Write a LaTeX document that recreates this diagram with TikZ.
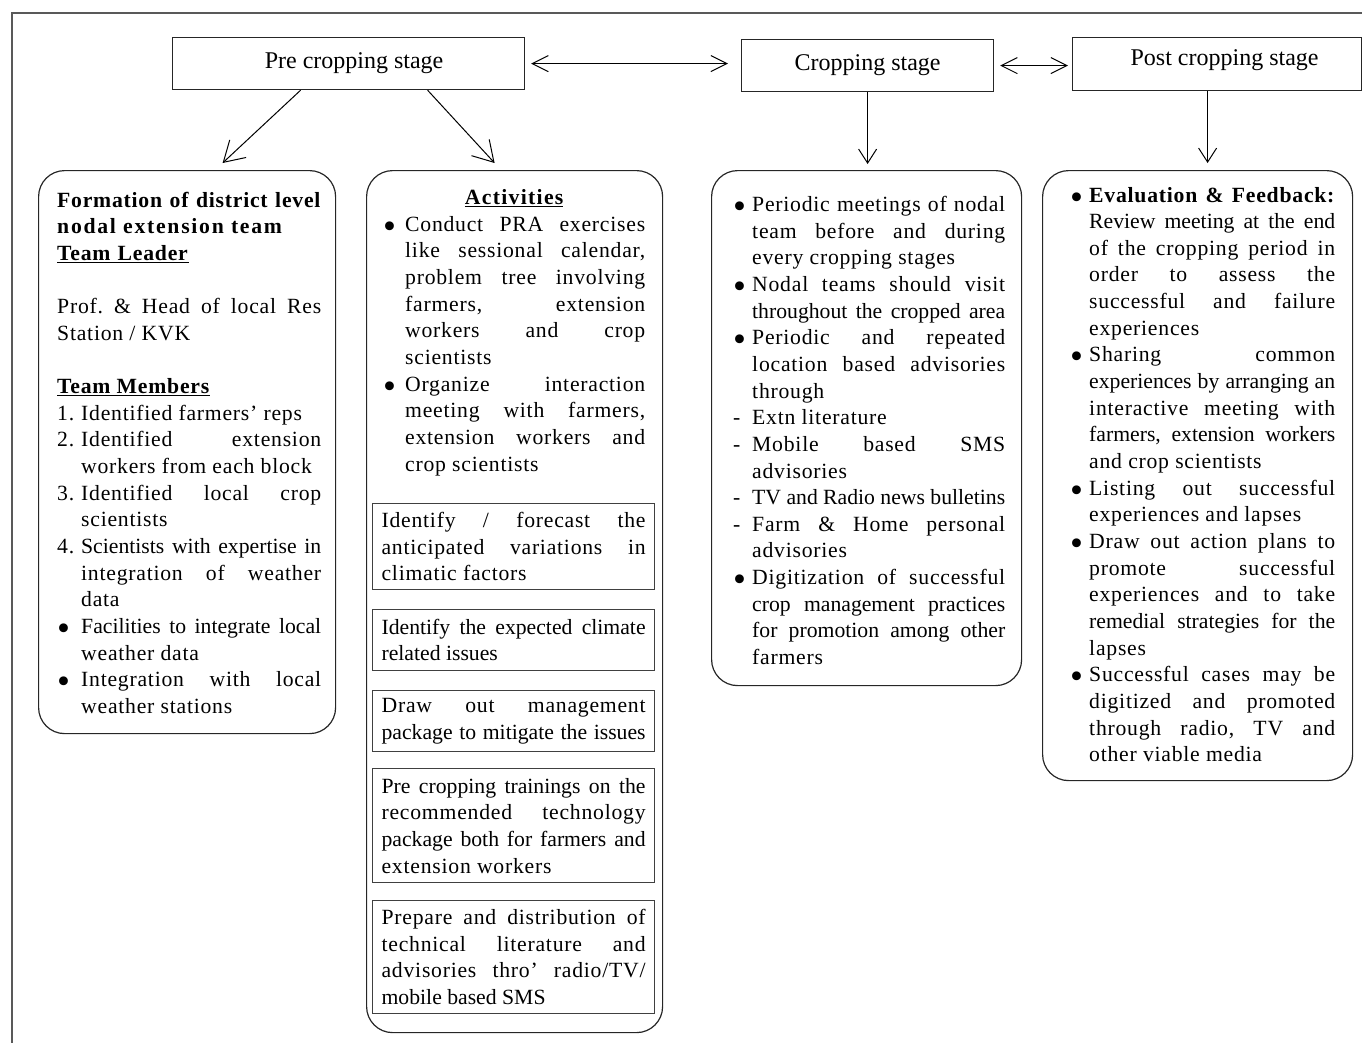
\documentclass[tikz,border=0pt]{standalone}
\usepackage{fontspec}
\setmainfont{Liberation Serif}[LetterSpace=3.5]
\newfontfamily\lsfont{Liberation Serif}[LetterSpace=3.5]
\newfontfamily\tightfont{Liberation Serif}
\usetikzlibrary{arrows.meta}
\newlength\xind
\newlength\xw
\newcommand\xtf{\tightfont}
\newcommand\xsk{\spaceskip=0pt\xspaceskip=0pt }
\newcommand\xb{\raisebox{-7pt}{\scalebox{1.7}{•}}}
\newcommand\xjl[1]{\makebox[\xw][s]{\xsk#1}}
\newcommand\xij[2]{\makebox[\xind][l]{#1}\makebox[\dimexpr\xw-\xind\relax][s]{\xsk#2}}
\newcommand\xil[2]{\makebox[\xind][l]{#1}{\xsk#2}}
\newcommand\xcl[1]{\hspace*{\xind}{\xsk#1}}
\newcommand\xcj[1]{\hspace*{\xind}\makebox[\dimexpr\xw-\xind\relax][s]{\xsk#1}}
\begin{document}
\begin{tikzpicture}[x=1pt,y=-1pt,
  every node/.style={font=\fontsize{21.7}{26.65}\selectfont\frenchspacing, inner sep=0pt},
  topbox/.style={draw=black!85, line width=1.2pt, font=\tightfont\fontsize{24}{28}\selectfont, anchor=north west},
  rbox/.style={draw=black!85, line width=1.2pt, rounded corners=26pt, anchor=north west},
  ibox/.style={draw=black!75, line width=1.2pt, anchor=north west, text width=264pt, inner xsep=9pt, align=left},
  txt/.style={anchor=base west, align=left},
  arr/.style={line width=1pt, -{Straight Barb[length=14pt,width=18pt]}},
  darr/.style={line width=1pt, -{Straight Barb[length=20pt,width=24pt]}},
  harr/.style={line width=1pt, {Straight Barb[length=16pt,width=16pt]}-{Straight Barb[length=16pt,width=16pt]}}]
\useasboundingbox (0,0) rectangle (1362,1042);
\draw[black!65, line width=1.6pt] (12,1060) -- (12,13) -- (1380,13);

% top stage boxes
\node[topbox, minimum width=352pt, minimum height=52pt] (pre) at (172,37) {\hspace*{11pt}Pre cropping stage};
\node[topbox, minimum width=252pt, minimum height=52pt] (crop) at (741,39) {Cropping stage};
\node[topbox, minimum width=289pt, minimum height=53pt] (post) at (1072,37) {\hspace*{15pt}\raisebox{4pt}[\height][\depth]{Post cropping stage}};

% rounded boxes
\node[rbox, minimum width=297pt, minimum height=563pt] (team) at (38,170) {};
\node[rbox, minimum width=296pt, minimum height=862pt] (act) at (366,170) {};
\node[rbox, minimum width=310pt, minimum height=515pt] (cbox) at (711,170) {};
\node[rbox, minimum width=310pt, minimum height=610pt] (pbox) at (1042,170) {};

% team text
\node[txt, text width=264pt] (teamtxt) at (57,207) {\setlength\xind{24pt}\setlength\xw{264pt}%
\xjl{\textbf{Formation of district level}}\\
{\xsk\bfseries\addfontfeature{LetterSpace=8}nodal extension team}\\
\underline{\textbf{Team Leader}}\\
\mbox{}\\
\xjl{Prof. \& Head of local Res}\\
{\xsk Station / KVK}\\
\mbox{}\\
\underline{\xsk\textbf{Team Members}}\\
\xil{1.}{Identified farmers’ reps}\\
\xij{2.}{Identified extension}\\
\xcl{workers from each block}\\
\xij{3.}{Identified local crop}\\
\xcl{scientists}\\
\xij{4.}{\xtf Scientists with expertise in}\\
\xcj{integration of weather}\\
\xcl{data}\\
\xij{\xb}{\xtf Facilities to integrate local}\\
\xcl{weather data}\\
\xij{\xb}{Integration with local}\\
\xcl{weather stations}};

% activities text
\node[txt, text width=262pt] (acttxt) at (383,204.5) {\setlength\xind{22pt}\setlength\xw{262pt}%
\makebox[\xw][c]{\underline{\bfseries\addfontfeature{LetterSpace=6}Activities}}\\
\xij{\xb}{Conduct PRA exercises}\\
\xcj{like sessional calendar,}\\
\xcj{problem tree involving}\\
\xcj{farmers, extension}\\
\xcj{workers and crop}\\
\xcl{scientists}\\
\xij{\xb}{Organize interaction}\\
\xcj{meeting with farmers,}\\
\xcj{extension workers and}\\
\xcl{crop scientists}};

\node[ibox, minimum height=86pt] (b1) at (372,503) {\setlength\xw{264pt}\xjl{Identify / forecast the}\\ \xjl{anticipated variations in}\\ {\xsk climatic factors}};
\node[ibox, minimum height=61pt] (b2) at (372,609) {\setlength\xw{264pt}\xjl{\xtf Identify the expected climate}\\ {\xsk\xtf related issues}};
\node[ibox, minimum height=61pt] (b3) at (372,690) {\setlength\xw{264pt}\xjl{Draw out management}\\ \xjl{\xtf package to mitigate the issues}};
\node[ibox, minimum height=114pt] (b4) at (372,768) {\setlength\xw{264pt}\xjl{\xtf Pre cropping trainings on the}\\ \xjl{recommended technology}\\ \xjl{\xtf package both for farmers and}\\ {\xsk extension workers}};
\node[ibox, minimum height=113pt] (b5) at (372,900) {\setlength\xw{264pt}\xjl{Prepare and distribution of}\\ \xjl{technical literature and}\\ \xjl{advisories thro’ radio/TV/}\\ {\xsk\xtf mobile based SMS}};

% cropping text
\node[txt, text width=272pt] (croptxt) at (733,211.5) {\setlength\xind{19pt}\setlength\xw{272pt}%
\xij{\xb}{Periodic meetings of nodal}\\
\xcj{team before and during}\\
\xcl{every cropping stages}\\
\xij{\xb}{Nodal teams should visit}\\
\xcj{\xtf throughout the cropped area}\\
\xij{\xb}{Periodic and repeated}\\
\xcj{location based advisories}\\
\xcl{through}\\
\xil{-}{Extn literature}\\
\xij{-}{Mobile based SMS}\\
\xcl{advisories}\\
\xij{-}{\xtf TV and Radio news bulletins}\\
\xij{-}{Farm \& Home personal}\\
\xcl{advisories}\\
\xij{\xb}{Digitization of successful}\\
\xcj{\xtf crop management practices}\\
\xcj{\xtf for promotion among other}\\
\xcl{farmers}};

% post text
\node[txt, text width=265pt] (posttxt) at (1070,202) {\setlength\xind{19pt}\setlength\xw{265pt}%
\xij{\xb}{\textbf{Evaluation \& Feedback:}}\\
\xcj{\xtf Review meeting at the end}\\
\xcj{of the cropping period in}\\
\xcj{order to assess the}\\
\xcj{successful and failure}\\
\xcl{experiences}\\
\xij{\xb}{Sharing common}\\
\xcj{\xtf experiences by arranging an}\\
\xcj{interactive meeting with}\\
\xcj{\xtf farmers, extension workers}\\
\xcl{and crop scientists}\\
\xij{\xb}{Listing out successful}\\
\xcl{experiences and lapses}\\
\xij{\xb}{Draw out action plans to}\\
\xcj{promote successful}\\
\xcj{experiences and to take}\\
\xcj{\xtf remedial strategies for the}\\
\xcl{lapses}\\
\xij{\xb}{Successful cases may be}\\
\xcj{digitized and promoted}\\
\xcj{through radio, TV and}\\
\xcl{other viable media}};

% connectors
\draw[darr] ([xshift=-48pt]pre.south) -- ([xshift=35.5pt,yshift=7pt]team.north);
\draw[darr] ([xshift=79pt]pre.south) -- ([xshift=-20pt,yshift=7pt]act.north);
\draw[arr, shorten >=6pt] (crop.south) -- (crop.south |- cbox.north);
\draw[arr] ([xshift=-9.5pt]post.south) -- ([xshift=10pt,yshift=7pt]pbox.north);
\draw[harr, shorten <=6pt, shorten >=13pt] (pre.east) -- (pre.east -| crop.west);
\draw[harr, shorten <=6pt, shorten >=4pt] (crop.east) -- (crop.east -| post.west);
\end{tikzpicture}
\end{document}
